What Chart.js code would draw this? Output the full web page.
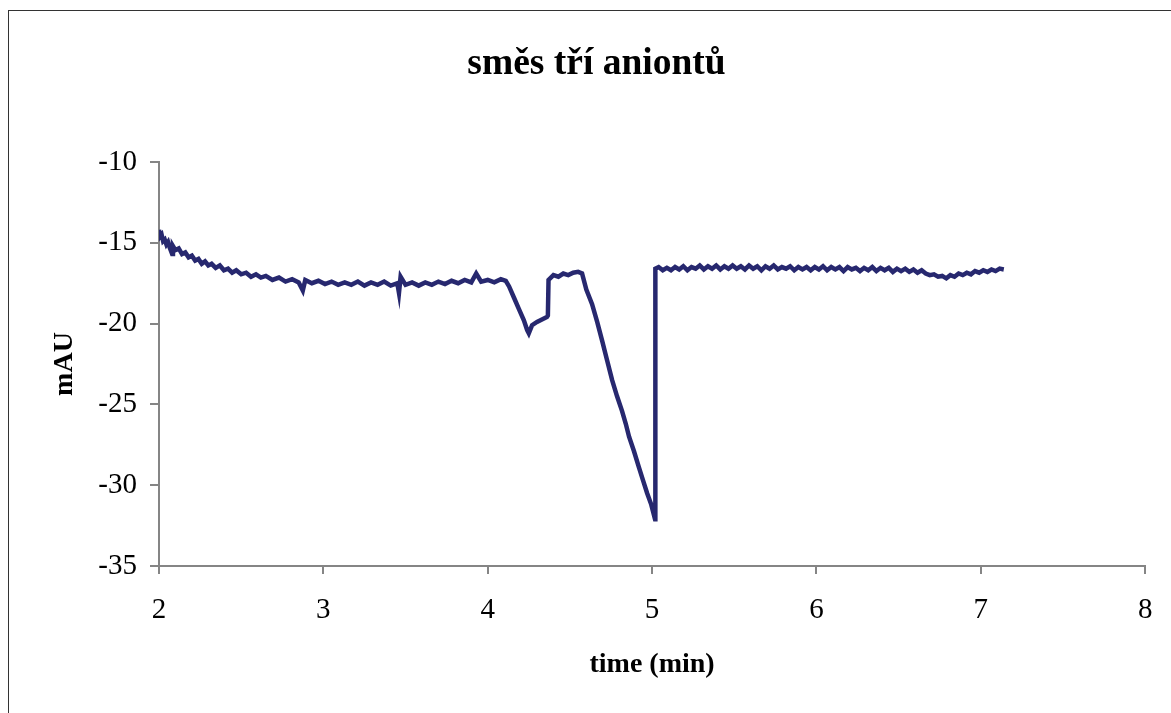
<!DOCTYPE html>
<html>
<head>
<meta charset="utf-8">
<title>směs tří aniontů</title>
<script src="https://cdn.jsdelivr.net/npm/chart.js@4"></script>
<style>
  html, body { margin: 0; padding: 0; background: #fff; overflow: hidden; }
  #wrap { position: relative; width: 1171px; height: 713px; }
  #ramecek { position: absolute; left: 8px; top: 10px; width: 1200px; height: 800px;
             border-top: 1px solid #333; border-left: 1px solid #333; }
  canvas { position: absolute; left: 0; top: 0; }
</style>
</head>
<body>
<div id="wrap">
  <div id="ramecek"></div>
  <canvas id="graf" width="1171" height="713"></canvas>
</div>
<script>
// cas (min) a signal (mAU)
const casMin = [
  2.000, 2.008, 2.016, 2.025, 2.035, 2.045, 2.055, 2.065, 2.080, 2.085,
  2.100, 2.120, 2.140, 2.160, 2.180, 2.200, 2.220, 2.240, 2.260, 2.280,
  2.300, 2.320, 2.345, 2.370, 2.395, 2.420, 2.445, 2.470, 2.500, 2.530,
  2.560, 2.590, 2.620, 2.650, 2.690, 2.730, 2.770, 2.810, 2.850, 2.875,
  2.890, 2.930, 2.970, 3.010, 3.050, 3.090, 3.130, 3.170, 3.210, 3.250,
  3.290, 3.330, 3.370, 3.410, 3.450, 3.460, 3.470, 3.500, 3.540, 3.580,
  3.620, 3.660, 3.700, 3.740, 3.780, 3.820, 3.860, 3.900, 3.930, 3.960,
  4.000, 4.040, 4.080, 4.110,
  4.130, 4.160, 4.190, 4.220, 4.240, 4.250, 4.270, 4.300, 4.330, 4.360, 4.366,
  4.370, 4.400, 4.430, 4.460, 4.490, 4.520, 4.550, 4.574,
  4.600, 4.635, 4.666, 4.696, 4.727, 4.757, 4.787, 4.817, 4.840, 4.860,
  4.890, 4.920, 4.945, 4.970, 4.995, 5.018,
  5.020, 5.040, 5.065, 5.090, 5.115, 5.140, 5.165, 5.190, 5.215, 5.240,
  5.265, 5.290, 5.315, 5.340, 5.365, 5.390, 5.415, 5.440, 5.465, 5.490,
  5.515, 5.540, 5.565, 5.590, 5.615, 5.640, 5.665, 5.690, 5.715, 5.740,
  5.765, 5.790, 5.815, 5.840, 5.865, 5.890, 5.915, 5.940, 5.965, 5.990,
  6.015, 6.040, 6.065, 6.090, 6.115, 6.140, 6.165, 6.190, 6.215, 6.240,
  6.265, 6.290, 6.315, 6.340, 6.365, 6.390, 6.415, 6.440, 6.465, 6.490,
  6.515, 6.540, 6.565, 6.590, 6.615, 6.640, 6.665, 6.690, 6.715, 6.740,
  6.765, 6.790, 6.815, 6.840, 6.865, 6.890, 6.915, 6.940, 6.965, 6.990,
  7.015, 7.040, 7.065, 7.090, 7.115, 7.140
];
const signal = [
  -14.2, -14.6, -14.5, -14.9, -14.8, -15.1, -14.95, -15.3, -15.7, -15.2,
  -15.45, -15.35, -15.7, -15.6, -15.9, -15.8, -16.1, -16.0, -16.3, -16.15,
  -16.4, -16.3, -16.55, -16.4, -16.7, -16.6, -16.85, -16.7, -16.95, -16.85,
  -17.1, -16.95, -17.15, -17.05, -17.3, -17.15, -17.4, -17.25, -17.45, -17.95,
  -17.3, -17.5, -17.35, -17.55, -17.4, -17.6, -17.45, -17.6, -17.4, -17.65,
  -17.45, -17.6, -17.4, -17.65, -17.5, -18.1, -17.1, -17.6, -17.45, -17.65,
  -17.45, -17.6, -17.4, -17.55, -17.35, -17.5, -17.3, -17.45, -16.9, -17.4,
  -17.3, -17.45, -17.25, -17.35,
  -17.7, -18.4, -19.1, -19.8, -20.4, -20.6, -20.1, -19.9, -19.75, -19.6, -19.5,
  -17.3, -17.0, -17.1, -16.9, -17.0, -16.85, -16.8, -16.9,
  -17.9, -18.8, -19.9, -21.05, -22.3, -23.5, -24.5, -25.4, -26.2, -27.0,
  -27.9, -28.9, -29.7, -30.5, -31.2, -32.1,
  -16.6, -16.5, -16.7, -16.55, -16.7, -16.5, -16.65, -16.45, -16.7, -16.5,
  -16.6, -16.4, -16.65, -16.45, -16.6, -16.4, -16.65, -16.45, -16.6, -16.4,
  -16.6, -16.45, -16.65, -16.4, -16.6, -16.45, -16.7, -16.45, -16.6, -16.4,
  -16.65, -16.5, -16.6, -16.45, -16.7, -16.5, -16.65, -16.5, -16.7, -16.5,
  -16.65, -16.45, -16.7, -16.5, -16.65, -16.5, -16.75, -16.5, -16.65, -16.55,
  -16.75, -16.55, -16.7, -16.5, -16.75, -16.55, -16.7, -16.55, -16.8, -16.6,
  -16.75, -16.6, -16.8, -16.65, -16.85, -16.7, -16.9, -17.0, -16.95, -17.1,
  -17.05, -17.2, -17.0, -17.1, -16.9, -17.0, -16.85, -16.95, -16.75, -16.85,
  -16.7, -16.8, -16.65, -16.75, -16.6, -16.65
];
const xTicks = [2, 3, 4, 5, 6, 7, 8];
const yTicks = [-35, -30, -25, -20, -15, -10];

const seda = '#858585';
const pismo = 'Liberation Serif';
const levyOkraj = 22;

const body = casMin.map((t, i) => ({ x: t, y: signal[i] }));

new Chart(document.getElementById('graf'), {
  type: 'line',
  data: {
    datasets: [{
      data: body,
      borderColor: '#27286f',
      borderWidth: 4.5,
      pointRadius: 0,
      tension: 0,
      fill: false
    }]
  },
  options: {
    responsive: false,
    animation: false,
    devicePixelRatio: 1,
    layout: { padding: { left: levyOkraj, right: 0, top: 0, bottom: 0 } },
    plugins: {
      legend: { display: false },
      tooltip: { enabled: false },
      title: {
        display: true,
        text: 'směs tří aniontů',
        color: '#000',
        font: { family: pismo, size: 37.5, weight: 'bold' },
        padding: { top: 42, bottom: 162 - 42 - 45 }
      }
    },
    scales: {
      x: {
        type: 'linear',
        min: 2,
        max: 8,
        afterBuildTicks: s => { s.ticks = xTicks.map(v => ({ value: v })); },
        afterFit: s => { s.height = 147; },
        border: { display: true, color: seda, width: 2 },
        grid: { drawOnChartArea: false, drawTicks: true, tickLength: 8, color: seda, lineWidth: 2 },
        ticks: { color: '#000', padding: 18.6, font: { family: pismo, size: 29 } },
        title: {
          display: true,
          text: 'time (min)',
          color: '#000',
          font: { family: pismo, size: 28, weight: 'bold' },
          padding: { top: 0, bottom: 31.2 }
        }
      },
      y: {
        min: -35,
        max: -10,
        afterBuildTicks: s => { s.ticks = yTicks.map(v => ({ value: v })); },
        afterFit: s => { s.width = 159 - levyOkraj; },
        border: { display: true, color: seda, width: 2 },
        grid: { drawOnChartArea: false, drawTicks: true, tickLength: 9, color: seda, lineWidth: 2 },
        ticks: { color: '#000', padding: 13, font: { family: pismo, size: 29 } },
        title: {
          display: true,
          text: 'mAU',
          color: '#000',
          font: { family: pismo, size: 28, weight: 'bold' },
          padding: { top: 48.4 - levyOkraj, bottom: 0 }
        }
      },
      // prazdna osa vpravo jen kvuli okraji
      okraj: {
        type: 'linear',
        position: 'right',
        display: true,
        afterFit: s => { s.width = 22; },
        border: { display: false },
        grid: { display: false },
        ticks: { display: false }
      }
    }
  }
});
</script>
</body>
</html>
